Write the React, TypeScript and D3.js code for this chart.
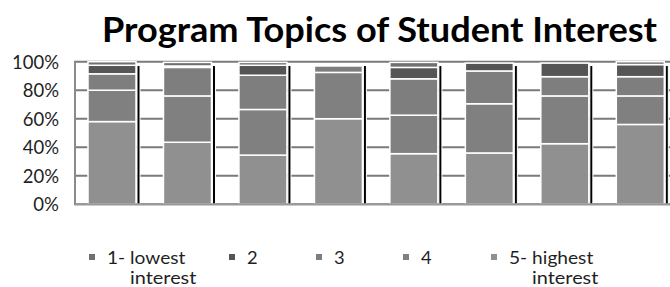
import React from "react";
import * as d3 from "d3";

// ---- data ----
const categories = ["Topic 1", "Topic 2", "Topic 3", "Topic 4", "Topic 5", "Topic 6", "Topic 7", "Topic 8"];
const lowest1 = [2.5, 2.5, 2, 0, 3.5, 0, 0, 2];
const level2 = [6, 1, 7, 0, 8, 5.5, 9.5, 8.5];
const level3 = [11.5, 20, 24, 4.5, 25.5, 23, 13.5, 13.5];
const level4 = [22, 32.5, 32, 32.5, 27, 34.5, 33.5, 20];
const highest5 = [58, 43.5, 34.5, 60, 35.5, 36, 42.5, 56];
const yTicks = [0, 20, 40, 60, 80, 100];
const legendLabels = [["1- lowest", "interest"], ["2"], ["3"], ["4"], ["5- highest", "interest"]];
const title = "Program Topics of Student Interest";

// ---- style / layout ----
const W = 670;
const H = 287;
const FONT = "Lato, 'Open Sans', sans-serif";
const keys = ["s1", "s2", "s3", "s4", "s5"]; // legend order
const stackKeys = ["s5", "s4", "s3", "s2", "s1"]; // bottom -> top
const colors: Record<string, string> = {
  s1: "#707070",
  s2: "#555555",
  s3: "#7e7e7e",
  s4: "#808080",
  s5: "#909090",
};
const legendX = [89, 229, 316, 403, 491];

// Calibri-like advance widths (per 1000 em) to size text with textLength
const REG: Record<string, number> = {
  "0": 507, "1": 507, "2": 507, "3": 507, "4": 507, "5": 507, "6": 507, "7": 507, "8": 507, "9": 507,
  "%": 715, "-": 306, " ": 226, a: 479, c: 423, d: 525, e: 498, g: 471, h: 525, i: 229, l: 229,
  n: 525, o: 527, r: 349, s: 391, t: 335, w: 715,
};
const BOLD: Record<string, number> = {
  P: 532, r: 355, o: 538, g: 474, a: 494, m: 813, " ": 226, T: 495, p: 537, i: 246, c: 418,
  s: 399, f: 316, S: 473, t: 347, u: 537, d: 537, e: 503, n: 537, I: 267,
};
function textW(str: string, size: number, bold = false) {
  const t = bold ? BOLD : REG;
  let w = 0;
  for (const ch of str) w += t[ch] ?? 500;
  return (w / 1000) * size;
}

export default function App() {
  const rows = categories.map((c, i) => ({
    cat: c,
    s1: lowest1[i],
    s2: level2[i],
    s3: level3[i],
    s4: level4[i],
    s5: highest5[i],
  }));
  const stacked = d3.stack<any>().keys(stackKeys)(rows);

  const x = d3
    .scaleBand<string>()
    .domain(categories)
    .range([75, 677.3])
    .paddingInner(0.364)
    .paddingOuter(0.1723)
    .align(0.5);
  const y = d3.scaleLinear().domain([0, 100]).range([204.3, 61.7]);
  const bw = x.bandwidth();
  const [x0, x1] = x.range();

  const tickSize = 21;
  const legSize = 21;

  return (
    <svg
      width={W}
      height={H}
      viewBox={`0 0 ${W} ${H}`}
      style={{ position: "absolute", left: 0, top: 0, background: "#fff" }}
    >
      <rect x={0} y={0} width={W} height={H} fill="#fff" />
      {/* title */}
      <text
        x={102}
        y={42}
        fontFamily={FONT}
        fontWeight="bold"
        fontSize={34}
        fill="#000"
        textLength={textW(title, 38.3, true)}
        lengthAdjust="spacingAndGlyphs"
      >
        {title}
      </text>

      {/* gridlines */}
      {yTicks.map((t) => (
        <line key={"g" + t} x1={x0} x2={x1} y1={y(t)} y2={y(t)} stroke="#7a7a7a" strokeWidth={2} />
      ))}
      {/* y tick labels */}
      {yTicks.map((t) => {
        const s = `${t}%`;
        return (
          <text
            key={"t" + t}
            x={59}
            y={y(t) + 6.8}
            textAnchor="end"
            fontFamily={FONT}
            fontSize={19}
            fill="#1f1f1f"
            textLength={textW(s, tickSize)}
            lengthAdjust="spacingAndGlyphs"
          >
            {s}
          </text>
        );
      })}

      {/* bars */}
      {stacked.map((layer) => (
        <g key={layer.key} fill={colors[layer.key]}>
          {layer.map((d, i) =>
            d[1] - d[0] > 0 ? (
              <rect
                key={i}
                x={x(categories[i])}
                y={y(d[1])}
                width={bw}
                height={y(d[0]) - y(d[1])}
                stroke="#fff"
                strokeWidth={1.5}
              />
            ) : null
          )}
        </g>
      ))}

      {/* dark side walls */}
      {categories.map((c) => (
        <rect
          key={"w" + c}
          x={(x(c) as number) + bw + 1}
          y={y(97.3)}
          width={3}
          height={y(0) - y(97.3)}
          fill="#000"
          stroke="#fff"
          strokeWidth={1}
        />
      ))}

      {/* axes */}
      <line x1={75} x2={75} y1={y(100) - 1} y2={y(0) + 1} stroke="#8a8a8a" strokeWidth={2} />
      <line x1={x0} x2={x1} y1={y(0)} y2={y(0)} stroke="#999" strokeWidth={2} />

      {/* legend */}
      {keys.map((k, i) => {
        const lines = legendLabels[i];
        const lx = legendX[i];
        return (
          <g key={"l" + k}>
            <rect x={lx} y={254} width={6} height={6} fill={colors[k]} />
            {lines.map((ln, j) => (
              <text
                key={j}
                x={lx + 18 + (j > 0 ? 23 : 0)}
                y={263.5 + j * 20.5}
                fontFamily={FONT}
                fontSize={17}
                fill="#1f1f1f"
                textLength={textW(ln, legSize)}
                lengthAdjust="spacingAndGlyphs"
              >
                {ln}
              </text>
            ))}
          </g>
        );
      })}
    </svg>
  );
}
